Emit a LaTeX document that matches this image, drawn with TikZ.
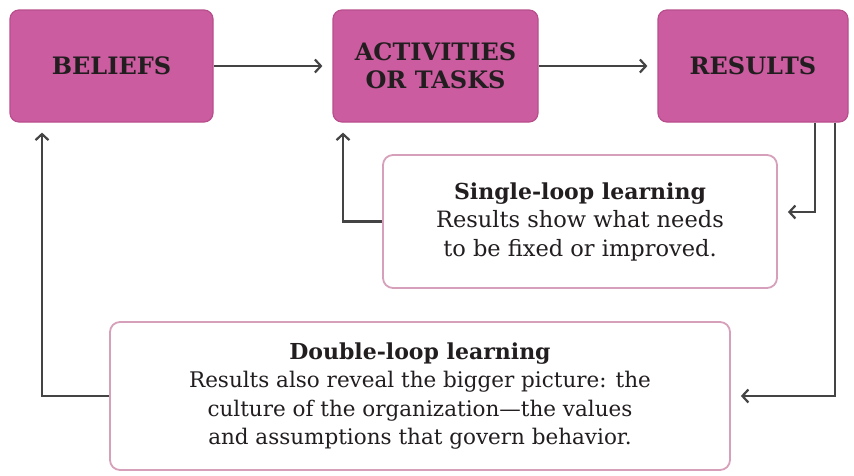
\documentclass[tikz,border=0pt]{standalone}
\usepackage{fontspec}
\setmainfont{DejaVu Serif}
\usetikzlibrary{arrows.meta}
\definecolor{pinkfill}{RGB}{204,92,160}
\definecolor{pinkedge}{RGB}{185,78,140}
\definecolor{softedge}{RGB}{214,160,186}
\definecolor{linegray}{RGB}{68,68,68}
\definecolor{txt}{RGB}{34,30,32}
\tikzset{
  topbox/.style={draw=pinkedge, line width=1.2pt, fill=pinkfill, rounded corners=9pt,
    minimum height=112pt, align=center, text=txt, inner sep=0pt,
    font=\bfseries\fontsize{24}{28}\selectfont},
  loopbox/.style={draw=softedge, line width=1.8pt, fill=white, rounded corners=10pt,
    align=center, text=txt, inner sep=0pt},
  conn/.style={draw=linegray, line width=2.4pt,
    -{Straight Barb[length=6pt,width=13pt,line width=2.2pt]}, shorten >=10pt},
}
\begin{document}
\begin{tikzpicture}[x=1pt,y=-1pt]
\useasboundingbox (0,0) rectangle (854,475);
\node[topbox, minimum width=203pt] (bel) at (111.5,66) {BELIEFS};
\node[topbox, minimum width=205pt] (act) at (435.5,66) {ACTIVITIES\\OR TASKS};
\node[topbox, minimum width=190pt] (res) at (753,66) {RESULTS};
\node[loopbox, minimum width=394pt, minimum height=133pt,
  font=\fontsize{22.5}{28.5}\selectfont] (single) at (580,221.5)
  {\textbf{\fontsize{22}{28.5}\selectfont Single-loop learning}\\
   Results show what needs\\
   to be fixed or improved.};
\node[loopbox, minimum width=620pt, minimum height=148pt,
  font=\fontsize{21.5}{28.5}\selectfont] (double) at (420,396)
  {\textbf{\fontsize{22}{28.5}\selectfont Double-loop learning}\\
   Results also reveal the bigger picture: the\\
   culture of the organization\textemdash the values\\
   and assumptions that govern behavior.};
\coordinate (cx1) at (815,0);
\coordinate (cx2) at (835,0);
\coordinate (cy1) at (0,212);
\coordinate (cx3) at (343,0);
\coordinate (cx4) at (42,0);
\draw[conn] (bel) -- (act);
\draw[conn] (act) -- (res);
\draw[conn] (res.south -| cx1) |- (single.east |- cy1);
\draw[conn] (single.west) -| (act.south -| cx3);
\draw[conn] (res.south -| cx2) |- (double.east);
\draw[conn] (double.west) -| (bel.south -| cx4);
\end{tikzpicture}
\end{document}
